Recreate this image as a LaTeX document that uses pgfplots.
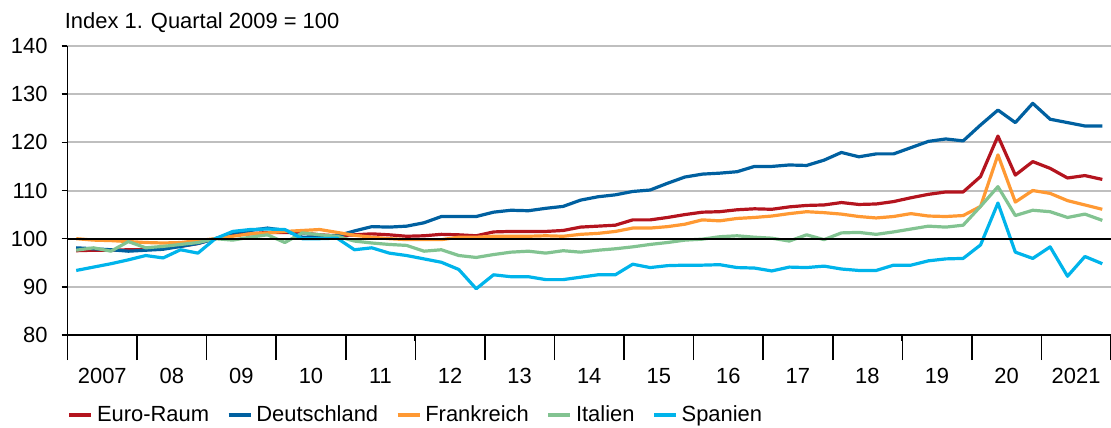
\documentclass[border=0pt]{standalone}
\usepackage{fontspec}
\setmainfont{Liberation Sans}
\usepackage{pgfplots}
\pgfplotsset{compat=1.18}
\usepackage{pgfplotstable}
\definecolor{cEA}{HTML}{B4141E}
\definecolor{cDE}{HTML}{0060A0}
\definecolor{cFR}{HTML}{FF9933}
\definecolor{cIT}{HTML}{82C391}
\definecolor{cES}{HTML}{00B4EB}
\definecolor{cGrid}{HTML}{BFBFBF}
\pgfplotstableread{
t ea de fr it es
0 97.5 98.1 100.0 97.6 93.4
1 97.6 97.9 99.7 98.1 94.1
2 97.6 97.7 99.6 97.4 94.8
3 97.7 97.4 99.4 99.4 95.6
4 97.7 97.6 99.2 98.1 96.5
5 98.1 97.8 99.1 98.4 96.0
6 98.4 98.4 99.2 98.8 97.7
7 99.0 99.0 99.6 99.2 97.0
8 100.0 100.0 100.0 100.0 100.0
9 100.8 101.2 100.5 99.7 101.5
10 101.0 101.7 101.0 100.3 101.9
11 101.3 102.2 101.2 100.8 102.0
12 101.3 101.7 101.5 99.2 101.9
13 101.2 100.3 101.7 101.2 100.0
14 100.8 100.4 101.9 100.8 100.0
15 100.6 100.6 101.3 100.5 100.1
16 100.8 101.6 100.7 99.5 97.7
17 101.0 102.5 100.3 99.1 98.1
18 100.8 102.4 100.0 98.8 97.0
19 100.5 102.6 99.8 98.6 96.5
20 100.6 103.3 99.8 97.4 95.8
21 100.9 104.6 99.8 97.7 95.1
22 100.8 104.6 100.3 96.5 93.6
23 100.6 104.6 100.3 96.1 89.6
24 101.4 105.5 100.5 96.7 92.5
25 101.5 105.9 100.5 97.2 92.1
26 101.5 105.8 100.5 97.4 92.1
27 101.5 106.3 100.6 97.0 91.5
28 101.7 106.7 100.5 97.5 91.5
29 102.4 108.0 100.9 97.2 92.0
30 102.6 108.7 101.1 97.6 92.5
31 102.8 109.1 101.5 97.9 92.5
32 103.9 109.8 102.2 98.3 94.7
33 103.9 110.1 102.2 98.8 94.0
34 104.4 111.5 102.5 99.2 94.4
35 105.0 112.8 103.0 99.7 94.5
36 105.5 113.4 103.9 99.9 94.5
37 105.6 113.6 103.7 100.4 94.6
38 106.0 113.9 104.2 100.6 94.0
39 106.2 115.0 104.4 100.3 93.9
40 106.1 115.0 104.7 100.1 93.3
41 106.6 115.3 105.2 99.5 94.1
42 106.9 115.2 105.6 100.8 94.0
43 107.0 116.3 105.4 99.8 94.3
44 107.5 117.9 105.1 101.2 93.7
45 107.1 117.0 104.6 101.3 93.4
46 107.2 117.6 104.3 100.9 93.4
47 107.7 117.6 104.6 101.4 94.5
48 108.5 118.9 105.2 102.0 94.5
49 109.2 120.2 104.7 102.6 95.4
50 109.7 120.7 104.6 102.4 95.8
51 109.7 120.3 104.8 102.8 95.9
52 112.9 123.6 106.7 106.7 98.7
53 121.3 126.7 117.4 110.8 107.4
54 113.2 124.1 107.6 104.8 97.2
55 116.0 128.1 110.0 105.9 95.9
56 114.6 124.8 109.4 105.6 98.3
57 112.6 124.1 107.9 104.4 92.2
58 113.1 123.4 107.0 105.1 96.3
59 112.3 123.4 106.1 103.8 94.8
}\datatable
\begin{document}
\begin{tikzpicture}
\begin{axis}[
  name=ax, at={(0,0)}, anchor=south west,
  scale only axis, width=521.75bp, height=144.5bp,
  xmin=2007, xmax=2022, ymin=80, ymax=140,
  axis x line*=bottom, axis y line*=left,
  axis line style={-, black, line width=0.8bp},
  every outer x axis line/.append style={-},
  every outer y axis line/.append style={-},
  ytick={80,90,...,140},
  ymajorgrids, grid style={cGrid, line width=1bp},
  tick align=outside,
  major tick length=3bp, minor tick length=6bp,
  tick style={black, line width=0.8bp},
  xtick={2007,...,2022},
  xticklabels={2007,08,09,10,11,12,13,14,15,16,17,18,19,20,2021,{}},
  minor x tick num=3,
  xticklabel style={xshift=17.39bp, yshift=-10bp},
  yticklabel style={xshift=-3.5bp},
  extra x ticks={2007,2008,...,2022},
  extra x tick labels={},
  extra x tick style={major tick length=12.5bp, grid=none},
  /pgf/number format/assume math mode=true,
  /pgf/number format/1000 sep={},
  tick label style={font=\fontsize{11}{13}\selectfont, black},
  legend columns=5,
  legend style={at={(0,0)}, anchor=west, yshift=-40bp, draw=none, fill=none,
    inner sep=0pt, font=\fontsize{11}{13}\selectfont,
    /tikz/every even column/.append style={column sep=7bp}},
  legend image code/.code={\draw[#1, line width=1.6bp] (0bp,0bp) -- (11bp,0bp);},
  every axis plot/.append style={line width=1.6bp, line join=round, mark=none},
  clip=false,
]
\addplot[cEA] table[x expr=2007.125+0.25*\thisrow{t}, y=ea] {\datatable};
\addlegendentry{Euro-Raum}
\addplot[cDE] table[x expr=2007.125+0.25*\thisrow{t}, y=de] {\datatable};
\addlegendentry{Deutschland}
\addplot[cFR] table[x expr=2007.125+0.25*\thisrow{t}, y=fr] {\datatable};
\addlegendentry{Frankreich}
\addplot[cIT] table[x expr=2007.125+0.25*\thisrow{t}, y=it] {\datatable};
\addlegendentry{Italien}
\addplot[cES] table[x expr=2007.125+0.25*\thisrow{t}, y=es] {\datatable};
\addlegendentry{Spanien}
\draw[black, line width=1.1bp] (axis cs:2007,100) -- (axis cs:2022,100);
\end{axis}
\node[anchor=base west, font=\fontsize{11}{13}\selectfont, inner sep=0pt] at ([xshift=-1.5bp,yshift=9bp]ax.north west) {Index 1. Quartal 2009 = 100};
\pgfresetboundingbox
\path ([xshift=-33.75bp,yshift=-46.5bp]ax.south west) rectangle ++(555.5bp,214bp);
\end{tikzpicture}
\end{document}
